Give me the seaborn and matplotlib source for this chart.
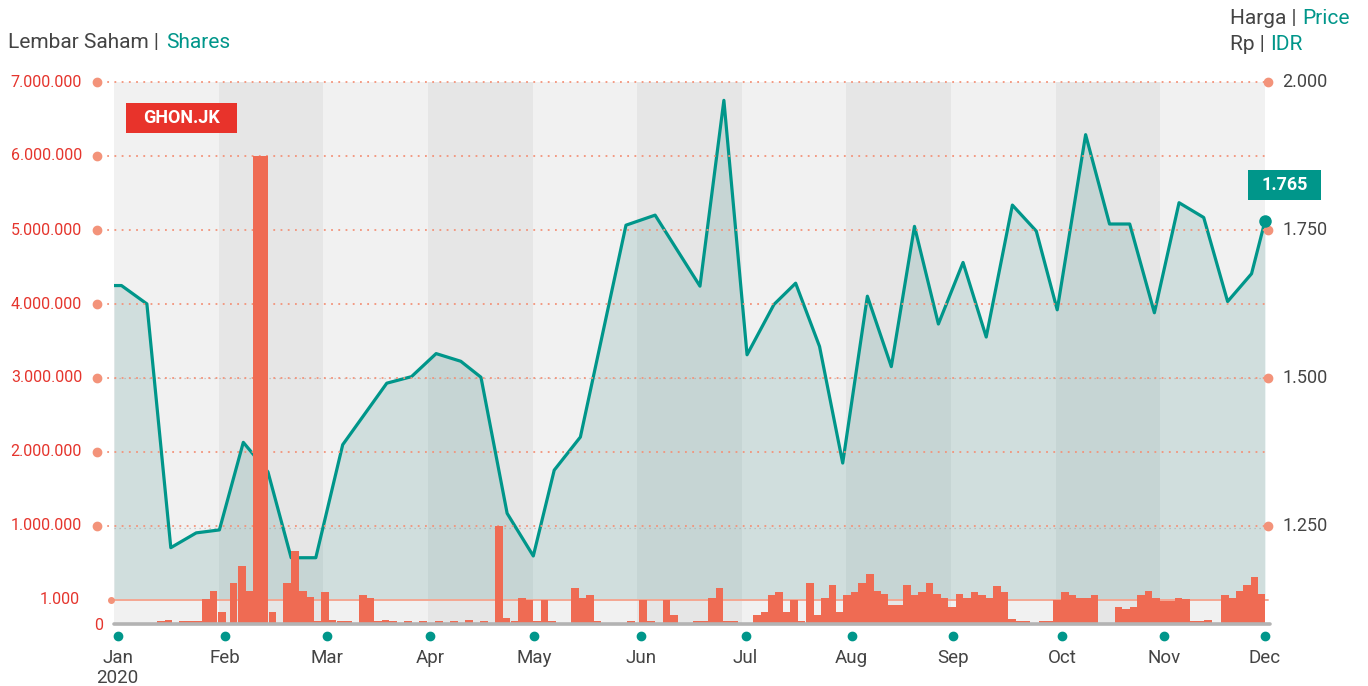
import numpy as np
import matplotlib.pyplot as plt
import matplotlib.transforms as mtransforms
from matplotlib.patches import Rectangle
import seaborn as sns

# x unit = one slot; every month band is 14 slots wide in the source chart
SLOTS_PER_MONTH = 14
N_MONTHS = 11

month_labels = ['Jan', 'Feb', 'Mar', 'Apr', 'May', 'Jun', 'Jul', 'Aug', 'Sep', 'Oct', 'Nov', 'Dec']
month_pos = [0.5, 14.85, 28.5, 42.3, 56.2, 70.5, 84.5, 98.7, 112.3, 126.9, 140.5, 154.0]
year_label = '2020'

# weekly closing price (IDR)
price_pos = [0, 1.0, 4.4, 7.6, 11.0, 14.1, 17.3, 20.6, 23.7, 27.0, 30.6, 36.5, 39.8, 43.1,
             46.4, 49.1, 52.6, 56.1, 58.9, 62.4, 68.5, 72.4, 78.4, 81.6, 84.7, 88.3, 91.2,
             94.4, 97.5, 100.8, 104.0, 107.1, 110.3, 113.6, 116.7, 120.2, 123.4, 126.2,
             130.0, 133.2, 135.9, 139.2, 142.5, 145.8, 149.0, 152.2, 154.0]
price_idr = [1656, 1656, 1625, 1213, 1238, 1243, 1391, 1341, 1196, 1196, 1387, 1491, 1502,
             1541, 1528, 1501, 1271, 1199, 1344, 1400, 1758, 1775, 1655, 1969, 1539, 1624,
             1660, 1553, 1356, 1638, 1519, 1756, 1591, 1695, 1569, 1792, 1748, 1615, 1911,
             1760, 1760, 1610, 1796, 1771, 1629, 1676, 1765]

# traded shares
vol_pos = [5.8, 6.8, 8.7, 9.7, 10.7, 11.8, 12.8, 13.9, 15.5, 16.6, 17.7, 18.6, 19.6, 20.7,
           22.6, 23.7, 24.8, 25.7, 26.7, 27.7, 28.7, 29.8, 30.8, 32.8, 33.8, 34.8, 35.8,
           36.8, 38.8, 40.8, 43.0, 45.0, 47.0, 49.0, 51.0, 52.0, 53.1, 54.1, 55.1, 56.1,
           57.1, 58.1, 61.2, 62.2, 63.2, 64.2, 68.7, 70.3, 71.3, 73.4, 74.4, 77.5, 78.5,
           79.5, 80.5, 81.5, 82.5, 85.5, 86.5, 87.5, 88.5, 89.5, 90.5, 91.5, 92.6, 93.6,
           94.6, 95.6, 96.6, 97.6, 98.6, 99.6, 100.6, 101.6, 102.6, 103.6, 104.6, 105.6,
           106.6, 107.6, 108.6, 109.6, 110.6, 111.6, 112.6, 113.6, 114.6, 115.6, 116.6,
           117.6, 118.6, 119.6, 120.6, 121.6, 123.7, 124.7, 125.7, 126.7, 127.7, 128.7,
           129.7, 130.7, 133.9, 134.9, 135.9, 136.9, 137.9, 138.9, 139.9, 140.9, 141.9,
           142.9, 143.9, 144.9, 145.9, 148.1, 149.1, 150.1, 151.1, 152.1, 153.1]
vol_shares = [130, 170, 130, 130, 130, 1050, 2300, 520, 5000, 24600, 2400, 6000000, 6000000, 520,
              5000, 98000, 2400, 1300, 130, 2200, 170, 130, 130, 1640, 1250, 130, 170,
              130, 130, 130, 130, 130, 170, 130, 1000000, 260, 130, 1250, 1000, 130,
              1000, 130, 3150, 1250, 1640, 130, 130, 1000, 130, 1000, 390, 130, 130,
              1250, 3150, 130, 130, 390, 520, 1640, 2200, 520, 1000, 130, 5000, 390,
              1250, 4200, 520, 1640, 2200, 5000, 11600, 2400, 1800, 780, 780, 4200,
              1640, 2200, 5000, 1800, 1250, 700, 1800, 1250, 2200, 1640, 1250,
              3800, 2200, 220, 130, 130, 130, 130, 1000, 2100, 1600, 1200,
              1200, 1600, 700, 610, 700, 1600, 2300, 1200, 960, 960, 1200,
              1100, 130, 130, 170, 1600, 1200, 2300, 4100, 8600, 1750]

vol_ticks = [1000000, 2000000, 3000000, 4000000, 5000000, 6000000, 7000000]
price_ticks = [1250, 1500, 1750, 2000]
ticker = 'GHON.JK'

TEAL = '#00968a'
BAR = '#ef6b53'
RED = '#e5352d'
SALMON = '#f3937a'
GREY_TXT = '#444444'

# volume axis: 0..1000 compressed, 1000..1M logarithmic, linear above 1M
LOW_H = 24 / 74


def fwd(v):
    v = np.asarray(v, dtype=float)
    low = np.minimum(v, 1000) / 1000 * LOW_H
    mid = np.log10(np.clip(v, 1000, 1e6) / 1000) / 3
    high = np.clip(v - 1e6, 0, None) / 1e6
    return low + mid + high


def inv(y):
    y = np.asarray(y, dtype=float)
    mid = 1000 * 10 ** (3 * np.clip(y - LOW_H, 0, 1))
    return np.where(y <= LOW_H, y / LOW_H * 1000,
                    np.where(y <= LOW_H + 1, mid, 1e6 + (y - LOW_H - 1) * 1e6))


def fmt(v):
    return f'{v:,.0f}'.replace(',', '.')


sns.set_theme(style='white')
plt.rcParams['font.family'] = ['Roboto', 'DejaVu Sans']

W, H = 1368, 686
fig = plt.figure(figsize=(W / 100, H / 100), dpi=100)
ax_p = fig.add_axes([114 / W, (H - 624) / H, 1151 / W, 542 / H])
ax_v = ax_p.twinx()

x_max = SLOTS_PER_MONTH * N_MONTHS
ax_p.set_xlim(0, x_max)
ax_p.set_ylim(1084, 2000)
ax_v.set_yscale('function', functions=(fwd, inv))
ax_v.set_ylim(0, 7000000)

# alternating month bands
for m in range(N_MONTHS):
    ax_p.axvspan(m * SLOTS_PER_MONTH, (m + 1) * SLOTS_PER_MONTH,
                 color='#f1f1f1' if m % 2 == 0 else '#e6e6e6', lw=0, zorder=0)

# price area + line
fill_base = 1125
ax_p.fill_between(price_pos, price_idr, fill_base, color='#3a8a87', alpha=0.18, lw=0, zorder=1)
sns.lineplot(x=price_pos, y=price_idr, ax=ax_p, color=TEAL, lw=2.3, zorder=2)
ax_p.plot(price_pos[-1], price_idr[-1], 'o', color=TEAL, ms=8, clip_on=False, zorder=5)
for p in [1246, 1500]:
    ax_p.axhline(p, color='#9a9a9a', lw=0.9, ls=(0, (1, 3)), alpha=0.6, zorder=1.5)

# grid lines and tick dots on the volume side
fig_y = mtransforms.blended_transform_factory(fig.transFigure, ax_v.transData)
for v in vol_ticks:
    ax_v.plot([100 / W, 1268 / W], [v, v], transform=fig_y, color=SALMON, lw=1.3,
              ls=(0, (1, 3)), clip_on=False, zorder=1)
    ax_v.plot(97 / W, v, 'o', transform=fig_y, color=SALMON, ms=6, clip_on=False, zorder=1)
    ax_v.text(82 / W, v, fmt(v), transform=fig_y, ha='right', va='center',
              color=RED, fontsize=11.5)
ax_v.plot([111 / W, 1268 / W], [1000, 1000], transform=fig_y, color='#f5a792', lw=1.4,
          clip_on=False, zorder=1)
ax_v.plot(111 / W, 1000, 'o', transform=fig_y, color=SALMON, ms=4, clip_on=False, zorder=1)
ax_v.text(80 / W, 1000, fmt(1000), transform=fig_y, ha='right', va='center', color=RED, fontsize=11.5)
fig.text(103 / W, 1 - 626 / H, '0', ha='right', va='center', color=RED, fontsize=11.5)

# volume bars
ax_v.bar(vol_pos, vol_shares, width=1.02, align='edge', color=BAR, lw=0, zorder=2)
ax_v.axhline(0, xmin=0, xmax=1.004, color='#b3b3b3', lw=2.6, clip_on=False, zorder=3)

# right price ticks
fig_yp = mtransforms.blended_transform_factory(fig.transFigure, ax_p.transData)
for p in price_ticks:
    ax_p.plot(1268 / W, p, 'o', transform=fig_yp, color=SALMON, ms=6, clip_on=False, zorder=3)
    ax_p.text(1282 / W, p, fmt(p), transform=fig_yp, ha='left', va='center',
              color=GREY_TXT, fontsize=13)

# month ticks
x_ax = mtransforms.blended_transform_factory(ax_v.transData, ax_v.transAxes)
ax_v.plot(month_pos, [-0.022] * len(month_pos), 'o', transform=x_ax, color=TEAL, ms=6,
          clip_on=False, zorder=3)
for pos, lab in zip(month_pos, month_labels):
    ax_v.text(pos, -0.063, lab, transform=x_ax, ha='center', va='center', color=GREY_TXT, fontsize=13.5)
ax_v.text(month_pos[0], -0.100, year_label, transform=x_ax, ha='center', va='center',
          color=GREY_TXT, fontsize=13.5)

for a in (ax_p, ax_v):
    a.set_xticks([])
    a.set_yticks([])
    a.set_xlabel('')
    a.set_ylabel('')
    for s in a.spines.values():
        s.set_visible(False)
ax_p.set_facecolor('white')

# ticker badge
ax_v.add_patch(Rectangle((0.0104, 0.906), 0.0965, 0.055, transform=ax_v.transAxes,
                         color='#e8332b', lw=0, zorder=6, clip_on=False))
ax_v.text(0.0586, 0.9335, ticker, transform=ax_v.transAxes, ha='center', va='center',
          color='white', fontsize=13, fontweight='bold', zorder=7)

# last price badge, placed relative to the last point
px, py = ax_p.transData.transform((price_pos[-1], price_idr[-1]))
fig.add_artist(Rectangle(((px - 17) / W, (py + 21) / H), 73 / W, 30 / H,
                         transform=fig.transFigure, color=TEAL, lw=0))
fig.text((px + 19.5) / W, (py + 36) / H, fmt(price_idr[-1]), ha='center', va='center',
         color='white', fontsize=13, fontweight='bold')

# axis titles
fig.text(8 / W, 1 - 48 / H, 'Lembar Saham |', color=GREY_TXT, fontsize=15, va='baseline')
fig.text(166 / W, 1 - 48 / H, 'Shares', color=TEAL, fontsize=15, va='baseline')
fig.text(1297 / W, 1 - 24 / H, 'Harga |', color=GREY_TXT, fontsize=15, va='baseline', ha='right')
fig.text(1302 / W, 1 - 24 / H, 'Price', color=TEAL, fontsize=15, va='baseline')
fig.text(1265 / W, 1 - 50 / H, 'Rp |', color=GREY_TXT, fontsize=15, va='baseline', ha='right')
fig.text(1270 / W, 1 - 50 / H, 'IDR', color=TEAL, fontsize=15, va='baseline')

fig.savefig('out.png', dpi=100)
